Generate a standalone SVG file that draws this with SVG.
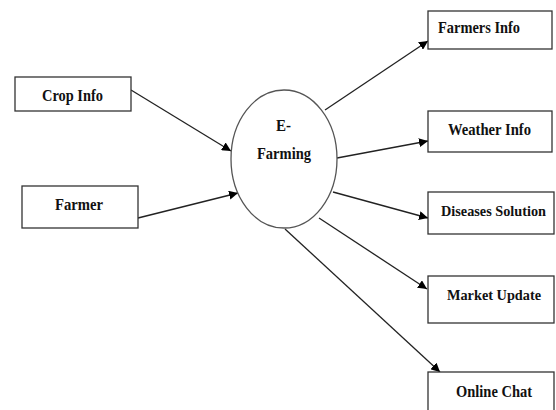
<svg xmlns="http://www.w3.org/2000/svg" width="556" height="410" viewBox="0 0 556 410">
<defs>
<marker id="ah" viewBox="0 0 10 10" refX="10" refY="5" markerWidth="9" markerHeight="9" markerUnits="userSpaceOnUse" orient="auto">
<path d="M0,0 L10,5 L0,10 z" fill="#000"/>
</marker>
<style>
.box{fill:#fff;stroke:#333;stroke-width:1.3}
.t{font-family:"Liberation Serif","Times New Roman",serif;font-weight:bold;font-size:17px;fill:#111;text-anchor:start}
.s{font-size:15px}
.c{stroke:#222;stroke-width:1.3;fill:none;marker-end:url(#ah)}
</style>
</defs>
<rect width="556" height="410" fill="#fff"/>
<g id="connectors">
<line class="c" x1="131" y1="90" x2="231" y2="151"/>
<line class="c" x1="138" y1="218" x2="238" y2="193"/>
<line class="c" x1="325" y1="110" x2="428" y2="41"/>
<line class="c" x1="337" y1="158" x2="428" y2="141"/>
<line class="c" x1="333" y1="192" x2="428" y2="218"/>
<line class="c" x1="319" y1="218" x2="427" y2="289"/>
<line class="c" x1="285" y1="229" x2="440" y2="372"/>
</g>
<g id="crop-info">
<rect class="box" x="15" y="77" width="116" height="34"/>
<text class="t" x="42" y="101" textLength="61" lengthAdjust="spacingAndGlyphs">Crop Info</text>
</g>
<g id="farmer">
<rect class="box" x="22" y="186" width="116" height="42"/>
<text class="t" x="55" y="210" textLength="48" lengthAdjust="spacingAndGlyphs">Farmer</text>
</g>
<g id="e-farming">
<ellipse cx="284" cy="159" rx="53" ry="69" fill="#fff" stroke="#555" stroke-width="1.3"/>
<text class="t" x="276" y="131" textLength="15" lengthAdjust="spacingAndGlyphs">E-</text>
<text class="t" x="257" y="159" textLength="54" lengthAdjust="spacingAndGlyphs">Farming</text>
</g>
<g id="farmers-info">
<rect class="box" x="428" y="11" width="124" height="38"/>
<text class="t" x="438" y="33" textLength="82" lengthAdjust="spacingAndGlyphs">Farmers Info</text>
</g>
<g id="weather-info">
<rect class="box" x="428" y="111" width="124" height="41"/>
<text class="t" x="448" y="135" textLength="83" lengthAdjust="spacingAndGlyphs">Weather Info</text>
</g>
<g id="diseases-solution">
<rect class="box" x="428" y="192" width="126" height="42"/>
<text class="t s" x="441" y="216" textLength="105" lengthAdjust="spacingAndGlyphs">Diseases Solution</text>
</g>
<g id="market-update">
<rect class="box" x="428" y="276" width="126" height="47"/>
<text class="t s" x="447" y="300" textLength="94" lengthAdjust="spacingAndGlyphs">Market Update</text>
</g>
<g id="online-chat">
<rect class="box" x="428" y="372" width="126" height="50"/>
<text class="t" x="456" y="397" textLength="76" lengthAdjust="spacingAndGlyphs">Online Chat</text>
</g>
</svg>
